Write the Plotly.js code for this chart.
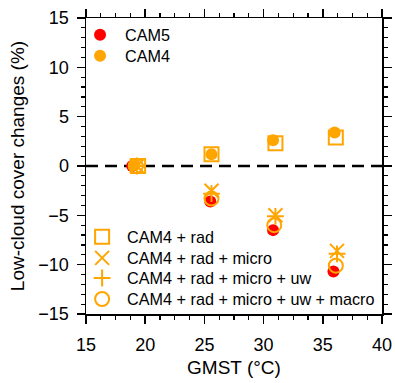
<!DOCTYPE html>
<html>
<head>
<meta charset="utf-8">
<script src="https://cdn.plot.ly/plotly-3.0.1.min.js"></script>
<style>html,body{margin:0;padding:0;background:#fff;}#chart{width:395px;height:383px;}</style>
</head>
<body>
<div id="chart"></div>
<script>
// GMST (°C) and low-cloud cover changes (%)
var gmstCAM5 = [18.9, 25.5, 30.8, 35.9];
var cloudCAM5 = [0.0, -3.6, -6.5, -10.7];
var gmstCAM4 = [19.1, 25.6, 30.8, 36.0];
var cloudCAM4 = [0.1, 1.2, 2.6, 3.4];
var gmstRad = [19.4, 25.6, 31.0, 36.1];
var cloudRad = [0.0, 1.2, 2.3, 2.9];
var gmstMicro = [19.3, 25.6, 31.0, 36.2];
var cloudMicro = [0.0, -2.5, -5.0, -8.6];
var gmstUw = [19.3, 25.6, 31.0, 36.2];
var cloudUw = [0.0, -2.8, -5.1, -8.9];
var gmstMacro = [19.2, 25.6, 30.9, 36.1];
var cloudMacro = [0.0, -3.3, -6.0, -10.1];

var names = ['CAM5', 'CAM4', 'CAM4 + rad', 'CAM4 + rad + micro', 'CAM4 + rad + micro + uw', 'CAM4 + rad + micro + uw + macro'];
var xTicks = [15, 20, 25, 30, 35, 40];
var yTicks = [-15, -10, -5, 0, 5, 10, 15];

var RED = '#ff0000', ORANGE = '#ffa500';
var FONT = 'Liberation Sans, Arial, Helvetica, sans-serif';

var traces = [
  {x: gmstCAM5, y: cloudCAM5, name: names[0], mode: 'markers', legend: 'legend',
   marker: {symbol: 'circle', size: 12, color: RED}},
  {x: gmstCAM4, y: cloudCAM4, name: names[1], mode: 'markers', legend: 'legend2',
   marker: {symbol: 'circle', size: 12, color: ORANGE}},
  {x: gmstRad, y: cloudRad, name: names[2], mode: 'markers', legend: 'legend3',
   marker: {symbol: 'square-open', size: 14, color: ORANGE, line: {width: 2, color: ORANGE}}},
  {x: gmstMicro, y: cloudMicro, name: names[3], mode: 'markers', legend: 'legend4',
   marker: {symbol: 'x-thin-open', size: 14, color: ORANGE, line: {width: 2, color: ORANGE}}},
  {x: gmstUw, y: cloudUw, name: names[4], mode: 'markers', legend: 'legend5',
   marker: {symbol: 'cross-thin-open', size: 12, color: ORANGE, line: {width: 2, color: ORANGE}}},
  {x: gmstMacro, y: cloudMacro, name: names[5], mode: 'markers', legend: 'legend6',
   marker: {symbol: 'circle-open', size: 14, color: ORANGE, line: {width: 2, color: ORANGE}}}
];

var axisCommon = {
  showgrid: false, zeroline: false, showline: true, linecolor: '#000', linewidth: 1.5,
  mirror: 'ticks', ticks: 'outside', ticklen: 8, tickwidth: 1.5, tickcolor: '#000',
  tickfont: {family: FONT, size: 18, color: '#000'}
};

var layout = {
  width: 395, height: 383,
  margin: {l: 86, r: 13, t: 18, b: 69},
  paper_bgcolor: '#fff', plot_bgcolor: '#fff',
  font: {family: FONT, color: '#000'},
  xaxis: Object.assign({}, axisCommon, {
    range: [15, 40], tickmode: 'array', tickvals: xTicks, ticktext: xTicks.map(String),
    ticklabelstandoff: 6,
    minor: {dtick: 1.25, ticks: 'outside', ticklen: 4, tickwidth: 1.2, tickcolor: '#000', showgrid: false},
    title: {text: 'GMST (°C)', font: {family: FONT, size: 19, color: '#000'}, standoff: 6}
  }),
  yaxis: Object.assign({}, axisCommon, {
    range: [-15, 15], tickmode: 'array', tickvals: yTicks, ticktext: yTicks.map(function(v){return v < 0 ? '\u2212' + Math.abs(v) : String(v);}),
    ticklabelstandoff: 4,
    minor: {dtick: 1, ticks: 'outside', ticklen: 4, tickwidth: 1.2, tickcolor: '#000', showgrid: false},
    title: {text: 'Low-cloud cover changes (%)', font: {family: FONT, size: 19, color: '#000'}, standoff: 8}
  }),
  shapes: [{type: 'line', xref: 'paper', yref: 'y', x0: 0, x1: 1, y0: 0, y1: 0,
            line: {color: '#000', width: 2.5, dash: '12px,7px'}, layer: 'below'}],
  showlegend: true
};

var legendY = [0.942, 0.871, 0.259, 0.188, 0.120, 0.049];
var legendX = [-0.037, -0.037, -0.030, -0.030, -0.030, -0.030];
['legend', 'legend2', 'legend3', 'legend4', 'legend5', 'legend6'].forEach(function(key, i) {
  layout[key] = {x: legendX[i], xanchor: 'left', y: legendY[i], yanchor: 'middle',
                 bgcolor: 'rgba(0,0,0,0)', font: {family: FONT, size: 16.2, color: '#000'},
                 itemwidth: 40, tracegroupgap: 0};
});

Plotly.newPlot('chart', traces, layout, {staticPlot: true, displayModeBar: false});
</script>
</body>
</html>
